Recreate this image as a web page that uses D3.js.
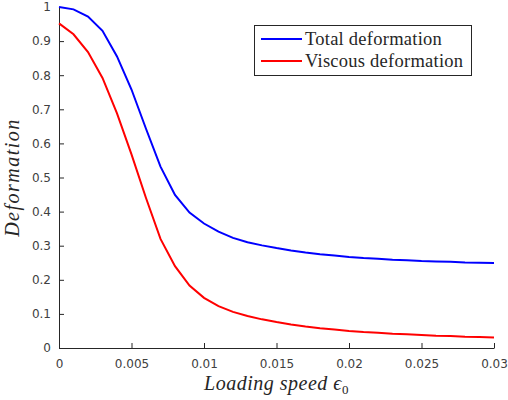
<!DOCTYPE html>
<html>
<head>
<meta charset="utf-8">
<script src="https://cdn.jsdelivr.net/npm/d3@7"></script>
<style>
  body { margin: 0; background: #fff; }
  .tick text { font-family: "DejaVu Sans", sans-serif; font-size: 12px; fill: #404040; }
  .axis path, .axis line { stroke: #262626; }
</style>
</head>
<body>
<div id="chart"></div>
<script>
// loading speed, 0 to 0.03 in steps of 0.001
var speed = [0, 0.001, 0.002, 0.003, 0.004, 0.005, 0.006, 0.007, 0.008, 0.009, 0.010,
             0.011, 0.012, 0.013, 0.014, 0.015, 0.016, 0.017, 0.018, 0.019, 0.020,
             0.021, 0.022, 0.023, 0.024, 0.025, 0.026, 0.027, 0.028, 0.029, 0.030];

var totalDef = [1.0, 0.993, 0.972, 0.93, 0.855, 0.758, 0.643, 0.532, 0.449, 0.397, 0.365,
                0.341, 0.323, 0.31, 0.301, 0.293, 0.286, 0.28, 0.275, 0.271, 0.267,
                0.264, 0.262, 0.259, 0.257, 0.255, 0.254, 0.253, 0.251, 0.25, 0.249];

var viscousDef = [0.952, 0.92, 0.868, 0.792, 0.688, 0.568, 0.44, 0.32, 0.24, 0.183, 0.147,
                  0.123, 0.106, 0.094, 0.084, 0.076, 0.069, 0.063, 0.058, 0.054, 0.050,
                  0.047, 0.045, 0.042, 0.040, 0.038, 0.036, 0.035, 0.033, 0.032, 0.031];

var seriesNames = ["Total deformation", "Viscous deformation"];
var xTicks = [0, 0.005, 0.01, 0.015, 0.02, 0.025, 0.03];
var yTicks = [0, 0.1, 0.2, 0.3, 0.4, 0.5, 0.6, 0.7, 0.8, 0.9, 1];

var margin = {top: 7, right: 14, bottom: 52, left: 59},
    width = 508 - margin.left - margin.right,
    height = 400 - margin.top - margin.bottom;

var color = d3.scaleOrdinal()
    .domain(seriesNames)
    .range(["#0000ff", "#ff0000"]);

var x = d3.scaleLinear().domain([0, 0.03]).range([0, width]);
var y = d3.scaleLinear().domain([0, 1]).range([height, 0]);

var svg = d3.select("#chart").append("svg")
    .attr("width", 508)
    .attr("height", 400)
  .append("g")
    .attr("transform", "translate(" + margin.left + "," + margin.top + ")");

// axes, ticks pointing inward like matlab
svg.append("g")
    .attr("class", "axis")
    .attr("transform", "translate(0," + height + ")")
    .call(d3.axisBottom(x).tickValues(xTicks).tickFormat(d3.format("~g"))
          .tickSizeInner(-5).tickSizeOuter(0).tickPadding(11));

svg.append("g")
    .attr("class", "axis")
    .call(d3.axisLeft(y).tickValues(yTicks).tickFormat(d3.format("~g"))
          .tickSizeInner(-5).tickSizeOuter(0).tickPadding(8));

var series = [
  {name: seriesNames[0], values: totalDef},
  {name: seriesNames[1], values: viscousDef}
];

var line = d3.line()
    .x(function(d, i) { return x(speed[i]); })
    .y(function(d) { return y(d); });

svg.selectAll(".curve")
    .data(series)
    .enter().append("path")
    .attr("class", "curve")
    .attr("fill", "none")
    .attr("stroke-width", 2)
    .attr("stroke", function(d) { return color(d.name); })
    .attr("d", function(d) { return line(d.values); });

// axis labels
var xl = svg.append("text")
    .attr("x", width / 2)
    .attr("y", height + 42)
    .attr("text-anchor", "middle")
    .style("font-family", "'Liberation Serif', serif")
    .style("font-style", "italic")
    .style("font-size", "20px")
    .style("letter-spacing", "0.5px")
    .attr("fill", "#262626");
xl.append("tspan").text("Loading speed \u03f5");
xl.append("tspan").attr("dy", 4).style("font-size", "13px").style("font-style", "normal").text("0");

svg.append("text")
    .attr("transform", "translate(-40," + (height / 2) + ") rotate(-90)")
    .attr("text-anchor", "middle")
    .style("font-family", "'Liberation Serif', serif")
    .style("font-style", "italic")
    .style("font-size", "20px")
    .style("letter-spacing", "1.5px")
    .attr("fill", "#262626")
    .text("Deformation");

// legend
var legend = svg.append("g")
    .attr("transform", "translate(" + (254 - margin.left) + "," + (25 - margin.top) + ")");

legend.append("rect")
    .attr("x", 0.5).attr("y", 0.5)
    .attr("width", 217).attr("height", 50)
    .attr("fill", "#fff")
    .attr("stroke", "#262626");

var items = legend.selectAll(".item")
    .data(seriesNames)
    .enter().append("g")
    .attr("transform", function(d, i) { return "translate(0," + (14 + i * 22) + ")"; });

items.append("line")
    .attr("x1", 7).attr("x2", 48)
    .attr("stroke-width", 2)
    .attr("stroke", function(d) { return color(d); });

items.append("text")
    .attr("x", 51)
    .attr("dy", "0.32em")
    .style("font-family", "'Liberation Serif', serif")
    .style("font-size", "18.5px")
    .style("letter-spacing", "0.25px")
    .attr("fill", "#262626")
    .text(function(d) { return d; });
</script>
</body>
</html>
